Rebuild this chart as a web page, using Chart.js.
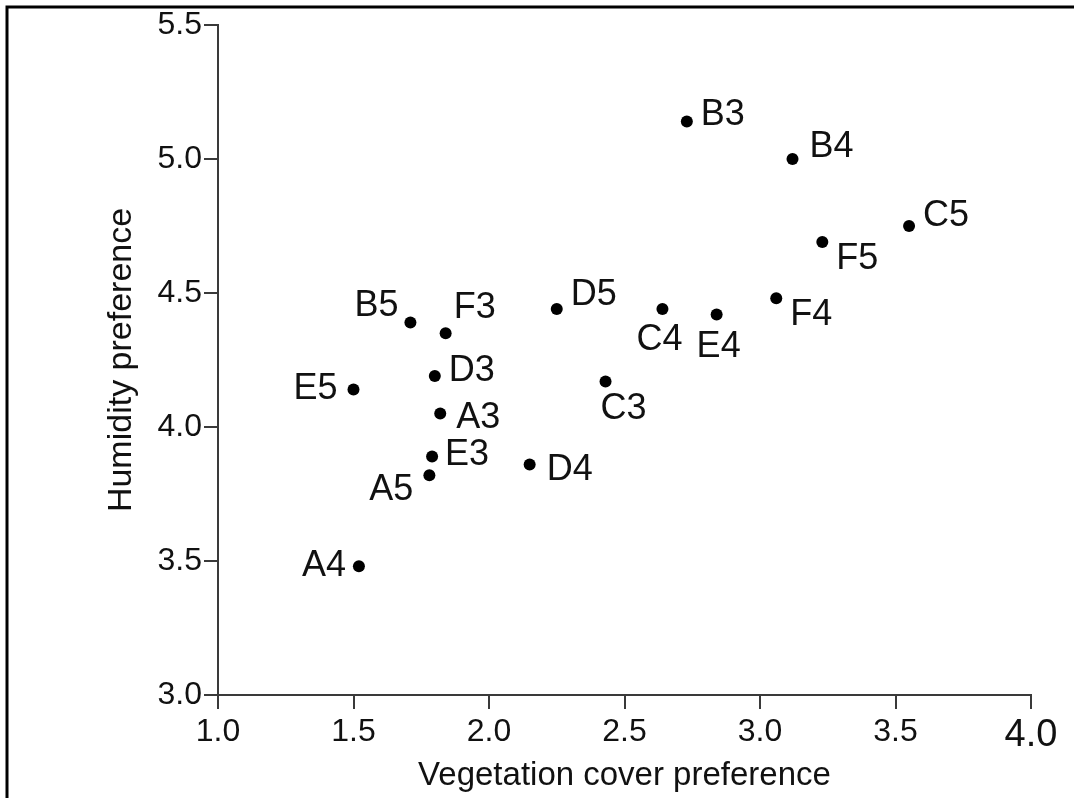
<!DOCTYPE html>
<html>
<head>
<meta charset="utf-8">
<script src="https://cdn.jsdelivr.net/npm/chart.js@4.4.1/dist/chart.umd.min.js"></script>
<style>
  html, body { margin: 0; padding: 0; background: #fff; }
  #wrap { position: relative; width: 1074px; height: 798px; }
  canvas { display: block; }
</style>
</head>
<body>
<div id="wrap"><canvas id="c" width="1074" height="798"></canvas></div>
<script>
// ---- data ----
const pointNames = ['B3','B4','C5','F5','F4','E4','C4','D5','C3','D4','B5','F3','D3','E5','A3','E3','A5','A4'];
const vegetationCover = [2.73, 3.12, 3.55, 3.23, 3.06, 2.84, 2.64, 2.25, 2.43, 2.15, 1.71, 1.84, 1.80, 1.50, 1.82, 1.79, 1.78, 1.52];
const humidity = [5.14, 5.00, 4.75, 4.69, 4.48, 4.42, 4.44, 4.44, 4.17, 3.86, 4.39, 4.35, 4.19, 4.14, 4.05, 3.89, 3.82, 3.48];
const xTickValues = [1.0, 1.5, 2.0, 2.5, 3.0, 3.5, 4.0];
const yTickValues = [3.0, 3.5, 4.0, 4.5, 5.0, 5.5];
const xTitle = 'Vegetation cover preference';
const yTitle = 'Humidity preference';

const FAMILY = '"Liberation Sans", Arial, Helvetica, sans-serif';
const AXIS = '#3a3a3a';

const points = vegetationCover.map((v, i) => ({ x: v, y: humidity[i] }));

// label placement (style only): offset from the point and text alignment
const labelPlacement = {
  B3: { dx: 14, dy: -6, align: 'left' },
  B4: { dx: 17, dy: -12, align: 'left' },
  C5: { dx: 14, dy: -10, align: 'left' },
  F5: { dx: 14, dy: 17, align: 'left' },
  F4: { dx: 14, dy: 17, align: 'left' },
  E4: { dx: 2, dy: 33, align: 'center' },
  C4: { dx: -3, dy: 31, align: 'center' },
  D5: { dx: 14, dy: -14, align: 'left' },
  C3: { dx: 18, dy: 28, align: 'center' },
  D4: { dx: 17, dy: 6, align: 'left' },
  B5: { dx: -12, dy: -16, align: 'right' },
  F3: { dx: 8, dy: -25, align: 'left' },
  D3: { dx: 14, dy: -5, align: 'left' },
  E5: { dx: -16, dy: 0, align: 'right' },
  A3: { dx: 16, dy: 4, align: 'left' },
  E3: { dx: 13, dy: -1, align: 'left' },
  A5: { dx: -16, dy: 15, align: 'right' },
  A4: { dx: -13, dy: 0, align: 'right' }
};

const framePlugin = {
  id: 'frame',
  beforeDraw(chart) {
    const ctx = chart.ctx;
    ctx.save();
    ctx.fillStyle = '#fff';
    ctx.fillRect(0, 0, chart.width, chart.height);
    ctx.strokeStyle = '#000';
    ctx.lineWidth = 3;
    ctx.beginPath();
    ctx.moveTo(7, chart.height);
    ctx.lineTo(7, 7);
    ctx.lineTo(chart.width, 7);
    ctx.stroke();
    ctx.restore();
  }
};

const pointLabelPlugin = {
  id: 'pointLabels',
  afterDatasetsDraw(chart) {
    const meta = chart.getDatasetMeta(0);
    const ctx = chart.ctx;
    ctx.save();
    ctx.font = '36px ' + FAMILY;
    ctx.fillStyle = '#111';
    ctx.textBaseline = 'middle';
    meta.data.forEach((el, i) => {
      const name = pointNames[i];
      const p = labelPlacement[name] || { dx: 14, dy: 0, align: 'left' };
      ctx.textAlign = p.align;
      ctx.fillText(name, el.x + p.dx, el.y + p.dy);
    });
    ctx.restore();
  }
};

new Chart(document.getElementById('c'), {
  type: 'scatter',
  data: {
    datasets: [{
      data: points,
      pointRadius: 6,
      pointHoverRadius: 6,
      pointBackgroundColor: '#000',
      pointBorderWidth: 0,
      showLine: false
    }]
  },
  options: {
    responsive: false,
    animation: false,
    events: [],
    layout: { padding: { left: 0, right: 43, top: 25, bottom: 0 } },
    plugins: { legend: { display: false }, tooltip: { enabled: false } },
    scales: {
      x: {
        type: 'linear',
        min: xTickValues[0],
        max: xTickValues[xTickValues.length - 1],
        afterBuildTicks(scale) { scale.ticks = xTickValues.map(v => ({ value: v })); },
        ticks: {
          callback: v => Number(v).toFixed(1),
          font: ctx => ({ family: FAMILY, size: (ctx.tick && ctx.tick.value === 4) ? 38 : 32 }),
          color: '#111',
          padding: 4,
          maxRotation: 0,
          autoSkip: false
        },
        grid: { drawOnChartArea: false, drawTicks: true, tickLength: 14, color: AXIS, lineWidth: 2 },
        border: { display: true, color: AXIS, width: 2 },
        title: { display: true, text: xTitle, font: { family: FAMILY, size: 33 }, color: '#111', padding: { top: 0, bottom: 2 } },
        afterFit(s) { s.height = 103; s.paddingLeft = 0; s.paddingRight = 0; }
      },
      y: {
        type: 'linear',
        min: yTickValues[0],
        max: yTickValues[yTickValues.length - 1],
        afterBuildTicks(scale) { scale.ticks = yTickValues.map(v => ({ value: v })); },
        ticks: {
          callback: v => Number(v).toFixed(1),
          font: { family: FAMILY, size: 32 },
          color: '#111',
          padding: 2,
          autoSkip: false
        },
        grid: { drawOnChartArea: false, drawTicks: true, tickLength: 14, color: AXIS, lineWidth: 2 },
        border: { display: true, color: AXIS, width: 2 },
        title: { display: true, text: yTitle, font: { family: FAMILY, size: 34 }, color: '#111', padding: { top: 101, bottom: 0 } },
        afterFit(s) { s.width = 218; s.paddingTop = 0; s.paddingBottom = 0; }
      }
    }
  },
  plugins: [framePlugin, pointLabelPlugin]
});
</script>
</body>
</html>
